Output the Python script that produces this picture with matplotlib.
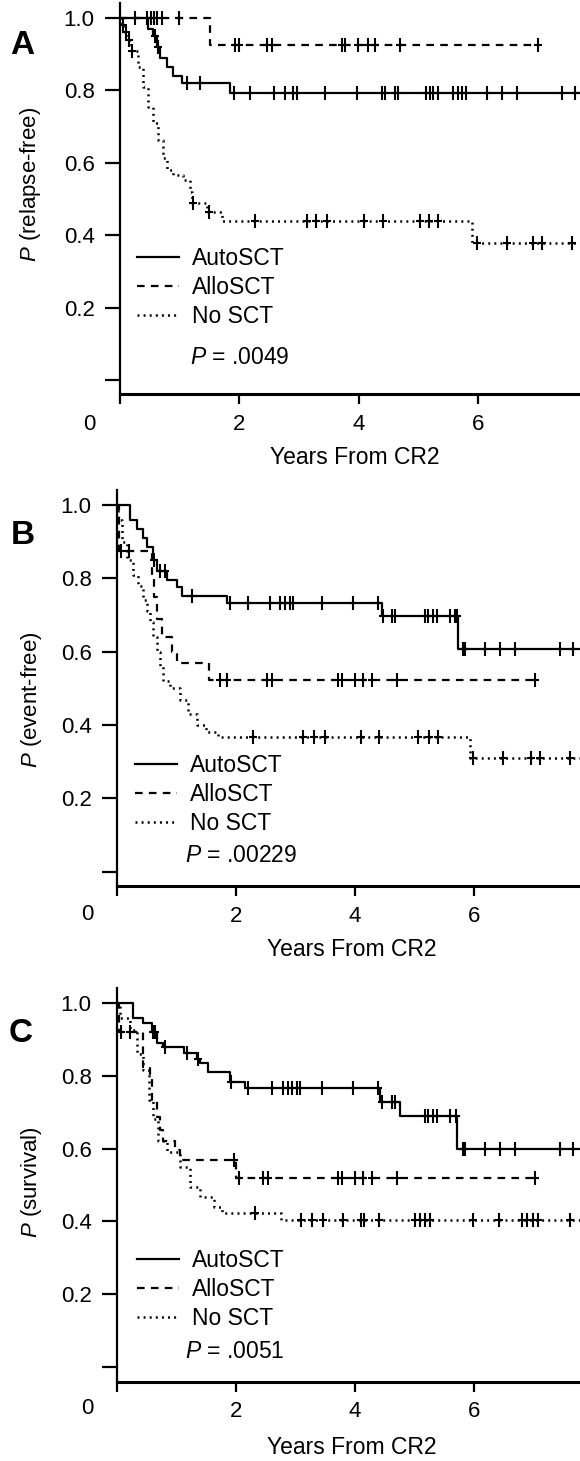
import numpy as np
import matplotlib
matplotlib.use('Agg')
import matplotlib.pyplot as plt
from matplotlib.path import Path
from matplotlib.lines import Line2D
from matplotlib.transforms import IdentityTransform

plt.rcParams['font.family'] = ['Liberation Sans', 'DejaVu Sans']
plt.rcParams['mathtext.fontset'] = 'custom'
plt.rcParams['mathtext.it'] = 'Liberation Sans:italic'
plt.rcParams['mathtext.rm'] = 'Liberation Sans'
plt.rcParams['lines.scale_dashes'] = False

# ---------------- data (years from CR2, probability) ----------------
groups = ['AutoSCT', 'AlloSCT', 'No SCT']
panel_letters = ['A', 'B', 'C']
ylabel_texts = ['(relapse-free)', '(event-free)', '(survival)']
p_values = ['.0049', '.00229', '.0051']
x_ticks = [0, 2, 4, 6]
x_ticklabels = ['', '2', '4', '6']
y_ticks = [0.0, 0.2, 0.4, 0.6, 0.8, 1.0]
y_ticklabels = ['', '0.2', '0.4', '0.6', '0.8', '1.0']

# Panel A: relapse-free
A_auto_t = [0.47, 0.55, 0.62, 0.67, 0.78, 0.89, 1.03, 1.84]
A_auto_s = [0.97, 0.95, 0.92, 0.89, 0.865, 0.84, 0.82, 0.793]
A_auto_c = [0.58, 0.64, 1.12, 1.34, 1.9, 2.18, 2.57, 2.76, 2.9, 2.96, 3.43, 3.97,
            4.38, 4.44, 4.6, 4.65, 5.13, 5.19, 5.24, 5.32, 5.57, 5.66, 5.72, 5.8,
            6.14, 6.39, 6.64, 7.4, 7.61]
A_auto_end = 7.8
A_allo_t = [1.51]
A_allo_s = [0.925]
A_allo_c = [0.25, 0.45, 0.52, 0.57, 0.62, 0.7, 0.98, 1.92, 2.0, 2.46, 2.54, 3.72,
            3.77, 3.98, 4.15, 4.27, 4.69, 7.0]
A_allo_end = 7.0
A_none_t = [0.03, 0.08, 0.13, 0.18, 0.3, 0.39, 0.47, 0.56, 0.64, 0.72, 0.78, 0.89,
            1.06, 1.17, 1.2, 1.45, 1.7, 5.89]
A_none_s = [0.98, 0.96, 0.94, 0.91, 0.865, 0.81, 0.754, 0.71, 0.663, 0.613, 0.58,
            0.566, 0.552, 0.52, 0.49, 0.464, 0.44, 0.378]
A_none_c = [0.05, 0.1, 0.15, 0.2, 1.22, 1.49, 2.26, 3.13, 3.28, 3.47, 4.09, 4.4,
            5.02, 5.17, 5.33, 5.97, 6.48, 6.91, 7.06, 7.56]
A_none_end = 7.8

# Panel B: event-free
B_auto_t = [0.22, 0.33, 0.44, 0.5, 0.6, 0.67, 0.84, 1.0, 1.09, 1.85, 4.45, 5.73]
B_auto_s = [0.958, 0.935, 0.91, 0.885, 0.85, 0.82, 0.795, 0.775, 0.753, 0.733,
            0.696, 0.606]
B_auto_c = [0.62, 0.72, 0.8, 1.26, 1.9, 2.2, 2.57, 2.74, 2.82, 2.91, 2.96, 3.45,
            3.97, 4.39, 4.47, 4.62, 4.67, 5.18, 5.23, 5.31, 5.38, 5.6, 5.68, 5.71,
            5.82, 5.85, 6.18, 6.44, 6.69, 7.45, 7.66]
B_auto_end = 7.8
B_allo_t = [0.04, 0.58, 0.62, 0.68, 0.75, 0.92, 1.0, 1.55]
B_allo_s = [0.875, 0.80, 0.75, 0.69, 0.64, 0.60, 0.57, 0.524]
B_allo_c = [0.07, 0.2, 1.73, 1.85, 2.52, 2.6, 3.72, 3.78, 4.0, 4.13, 4.28, 4.7, 7.03]
B_allo_end = 7.03
B_none_t = [0.02, 0.08, 0.17, 0.27, 0.35, 0.44, 0.5, 0.55, 0.61, 0.67, 0.72, 0.77,
            0.89, 1.06, 1.2, 1.35, 1.5, 1.7, 5.93]
B_none_s = [0.96, 0.9, 0.85, 0.81, 0.78, 0.74, 0.71, 0.68, 0.64, 0.6, 0.56, 0.52,
            0.50, 0.467, 0.43, 0.40, 0.38, 0.366, 0.31]
B_none_c = [2.29, 3.13, 3.31, 3.5, 4.1, 4.4, 5.06, 5.24, 5.4, 5.98, 6.49, 6.96,
            7.11, 7.61]
B_none_end = 7.8

# Panel C: survival
C_auto_t = [0.27, 0.44, 0.58, 0.67, 0.78, 1.13, 1.34, 1.4, 1.53, 1.9, 2.15, 4.42,
            4.76, 5.71]
C_auto_s = [0.96, 0.945, 0.92, 0.89, 0.88, 0.863, 0.845, 0.835, 0.81, 0.783,
            0.766, 0.728, 0.69, 0.60]
C_auto_c = [0.6, 0.64, 0.8, 1.17, 1.36, 1.92, 2.2, 2.6, 2.79, 2.87, 2.94, 3.02,
            3.08, 3.45, 3.97, 4.39, 4.45, 4.62, 4.67, 5.18, 5.23, 5.31, 5.38, 5.6,
            5.69, 5.82, 5.85, 6.18, 6.44, 6.69, 7.45, 7.66]
C_auto_end = 7.8
C_allo_t = [0.03, 0.44, 0.55, 0.58, 0.67, 0.72, 0.78, 0.97, 1.06, 2.0]
C_allo_s = [0.92, 0.825, 0.797, 0.733, 0.687, 0.65, 0.62, 0.596, 0.57, 0.52]
C_allo_c = [0.07, 0.22, 1.96, 2.05, 2.45, 2.54, 3.72, 3.78, 4.0, 4.13, 4.28, 4.7,
            7.03]
C_allo_end = 7.03
C_none_t = [0.05, 0.22, 0.33, 0.44, 0.53, 0.61, 0.69, 0.84, 1.06, 1.23, 1.4, 1.63,
            1.76, 2.76]
C_none_s = [0.96, 0.925, 0.86, 0.815, 0.733, 0.68, 0.62, 0.59, 0.55, 0.495, 0.467,
            0.44, 0.423, 0.403]
C_none_c = [2.32, 3.1, 3.28, 3.46, 3.8, 4.1, 4.15, 4.4, 5.0, 5.09, 5.17, 5.26,
            5.99, 6.42, 6.8, 6.89, 6.99, 7.07, 7.61]
C_none_end = 7.8

panels = [
    [(A_auto_t, A_auto_s, A_auto_c, A_auto_end),
     (A_allo_t, A_allo_s, A_allo_c, A_allo_end),
     (A_none_t, A_none_s, A_none_c, A_none_end)],
    [(B_auto_t, B_auto_s, B_auto_c, B_auto_end),
     (B_allo_t, B_allo_s, B_allo_c, B_allo_end),
     (B_none_t, B_none_s, B_none_c, B_none_end)],
    [(C_auto_t, C_auto_s, C_auto_c, C_auto_end),
     (C_allo_t, C_allo_s, C_allo_c, C_allo_end),
     (C_none_t, C_none_s, C_none_c, C_none_end)],
]

# ---------------- layout (pixels) ----------------
W, H = 580, 1461
layout = [
    dict(left=120, right=580, top=3.5, bottom=394.5, xmax=7.70,
         ylab=(31, 184), xlab=(355, 457), letter=(22, 46), zero=(89, 430),
         leg=(137, 247), ptxt=(190, 358)),
    dict(left=117, right=580, top=490.3, bottom=886.3, xmax=7.78,
         ylab=(31, 700), xlab=(352, 950), letter=(23, 536), zero=(87, 920),
         leg=(135, 754), ptxt=(185, 856)),
    dict(left=117, right=580, top=988.4, bottom=1381.6, xmax=7.78,
         ylab=(31, 1182), xlab=(352, 1448), letter=(21, 1033), zero=(87, 1414),
         leg=(137, 1249), ptxt=(185, 1352)),
]

styles = [dict(linestyle='-', lw=1.6),
          dict(dashes=(5.5, 4.5), lw=1.6),
          dict(dashes=(1.4, 3.0), lw=1.8)]

cross = Path([(0, -1.0), (0, 1.0), (-0.6, 0), (0.6, 0)],
             [Path.MOVETO, Path.LINETO, Path.MOVETO, Path.LINETO])

fig = plt.figure(figsize=(W / 100, H / 100), dpi=100)

for k, (L, curves) in enumerate(zip(layout, panels)):
    ax = fig.add_axes([L['left'] / W, 1 - L['bottom'] / H,
                       (L['right'] - L['left']) / W,
                       (L['bottom'] - L['top']) / H])
    handles = []
    for g, (t, s, c, end), st in zip(groups, curves, styles):
        tt = np.concatenate([[0.0], t, [end]])
        ss = np.concatenate([[1.0], s, [s[-1]]])
        ax.step(tt, ss, where='post', color='black', **st)
        sv = np.concatenate([[1.0], s])
        cy = sv[np.searchsorted(t, c, side='right')]
        ax.plot(c, cy, linestyle='none', marker=cross, markersize=10,
                markeredgewidth=1.5, color='black')
        handles.append(Line2D([], [], color='black', **st))
    ax.set_xlim(0, L['xmax'])
    ax.set_ylim(-0.04, 1.04)
    ax.spines['top'].set_visible(False)
    ax.spines['right'].set_visible(False)
    ax.spines['left'].set_linewidth(1.6)
    ax.spines['bottom'].set_linewidth(2.2)
    ax.set_xticks(x_ticks)
    ax.set_xticklabels(x_ticklabels)
    ax.set_yticks(y_ticks)
    ax.set_yticklabels(y_ticklabels)
    ax.tick_params(axis='y', length=10.8, width=1.6, pad=7.5, labelsize=16)
    ax.tick_params(axis='x', length=7, width=1.6, pad=7, labelsize=16)
    ax.set_xlabel('Years From CR2', fontsize=16.5)
    ax.xaxis.label.set_va('center')
    ax.xaxis.set_label_coords(L['xlab'][0], H - L['xlab'][1],
                              transform=IdentityTransform())
    ax.set_ylabel(r'$\it{P}$ ' + ylabel_texts[k], fontsize=16)
    ax.yaxis.label.set_va('center')
    ax.yaxis.set_label_coords(L['ylab'][0], H - L['ylab'][1],
                              transform=IdentityTransform())
    fig.text(L['zero'][0] / W, 1 - L['zero'][1] / H, '0', fontsize=16,
             ha='center', va='baseline')
    fig.text(L['letter'][0] / W, 1 - L['letter'][1] / H, panel_letters[k],
             fontsize=24, fontweight='bold', ha='center', va='center')
    ax.legend(handles, groups, loc='upper left', frameon=False, fontsize=16.5,
              bbox_to_anchor=(L['leg'][0] / W, 1 - L['leg'][1] / H),
              bbox_transform=fig.transFigure, borderpad=0, borderaxespad=0,
              handlelength=1.85, handletextpad=0.55, labelspacing=0.27)
    fig.text(L['ptxt'][0] / W, 1 - L['ptxt'][1] / H,
             r'$\it{P}$ = ' + p_values[k], fontsize=16.5, ha='left', va='center')

fig.savefig('out.png', dpi=100)
